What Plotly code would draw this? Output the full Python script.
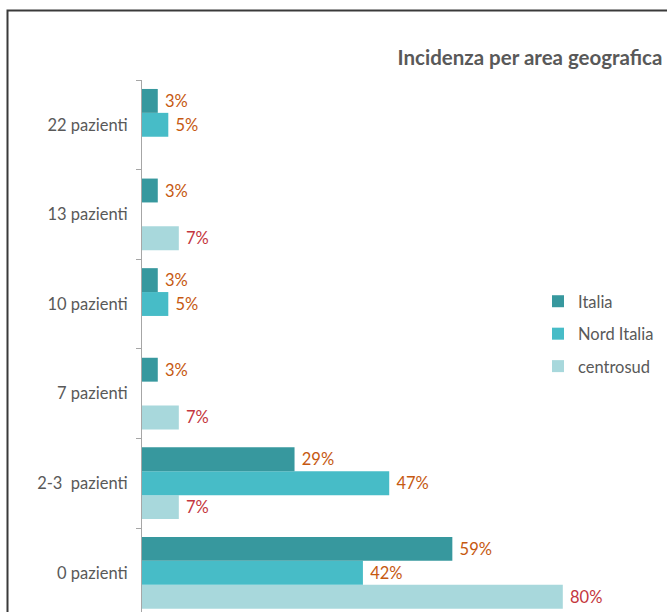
import plotly.graph_objects as go

# Categories, bottom to top
categories = ["0 pazienti", "2-3\u00a0\u00a0pazienti", "7 pazienti", "10 pazienti", "13 pazienti", "22 pazienti"]

# Percentages per area (None = no bar)
italia = [59, 29, 3, 3, 3, 3]
nord_italia = [42, 47, None, 5, None, 5]
centrosud = [80, 7, 7, None, 7, None]

series = [
    # drawn bottom-up inside each group, listed top-down in the legend
    ("centrosud", centrosud, "#A8D8DC", "#C4363E", 3),
    ("Nord Italia", nord_italia, "#47BCC7", "#C65911", 2),
    ("Italia", italia, "#37989E", "#C65911", 1),
]

FONT = "Lato, 'Open Sans', sans-serif"

fig = go.Figure()
for name, vals, color, label_color, rank in series:
    fig.add_trace(go.Bar(
        y=categories,
        x=vals,
        name=name,
        orientation="h",
        marker=dict(color=color, line=dict(width=0)),
        text=[None if v is None else f"\u00a0{v}%" for v in vals],
        textposition="outside",
        textfont=dict(color=label_color, size=16.5, family=FONT),
        constraintext="none",
        cliponaxis=False,
        legendrank=rank,
        legendgroup=name,
        hoverinfo="skip",
    ))

W, H = 667, 612
L, R, T, B = 142, 7, 80, 0
pw, ph = W - L - R, H - T - B


def px_to_paper_x(px):
    return (px - L) / pw


def px_to_paper_y(py):
    return (H - B - py) / ph


fig.update_layout(
    width=W,
    height=H,
    margin=dict(l=L, r=R, t=T, b=B),
    paper_bgcolor="white",
    plot_bgcolor="white",
    barmode="group",
    bargap=0.2,
    bargroupgap=0,
    font=dict(family=FONT, color="#595959", size=16.5),
    title=dict(
        text="<b>Incidenza per area geografica</b>",
        font=dict(size=20.5, color="#595959", family=FONT),
        xref="container", x=530 / W, xanchor="center",
        yref="container", y=1 - 58 / H, yanchor="middle",
    ),
    showlegend=True,
    legend=dict(
        x=px_to_paper_x(538), xanchor="left",
        y=px_to_paper_y(284), yanchor="top",
        traceorder="grouped",
        tracegroupgap=8,
        font=dict(size=16.5, color="#595959", family=FONT),
        bgcolor="rgba(0,0,0,0)",
        itemclick=False,
    ),
    xaxis=dict(
        range=[0, pw / 5.26],
        showgrid=False,
        zeroline=False,
        showline=False,
        showticklabels=False,
        ticks="",
    ),
    yaxis=dict(
        type="category",
        categoryorder="array",
        categoryarray=categories,
        range=[5.5 - ph / 89.6, 5.5],
        showgrid=False,
        zeroline=False,
        showline=True,
        linecolor="#A6A6A6",
        linewidth=1,
        ticks="outside",
        tickson="boundaries",
        ticklen=5,
        tickcolor="#A6A6A6",
        ticklabelstandoff=10,
        tickfont=dict(size=16.5, color="#595959", family=FONT),
    ),
    shapes=[
        # chart area border (top and left edges visible)
        dict(
            type="path", xref="paper", yref="paper",
            path=(f"M {px_to_paper_x(W + 20)},{px_to_paper_y(10.5)} "
                  f"L {px_to_paper_x(7.5)},{px_to_paper_y(10.5)} "
                  f"L {px_to_paper_x(7.5)},{px_to_paper_y(H + 20)}"),
            line=dict(color="#3A3A3A", width=2),
            layer="above",
        )
    ],
)

fig.write_html("out.html")
